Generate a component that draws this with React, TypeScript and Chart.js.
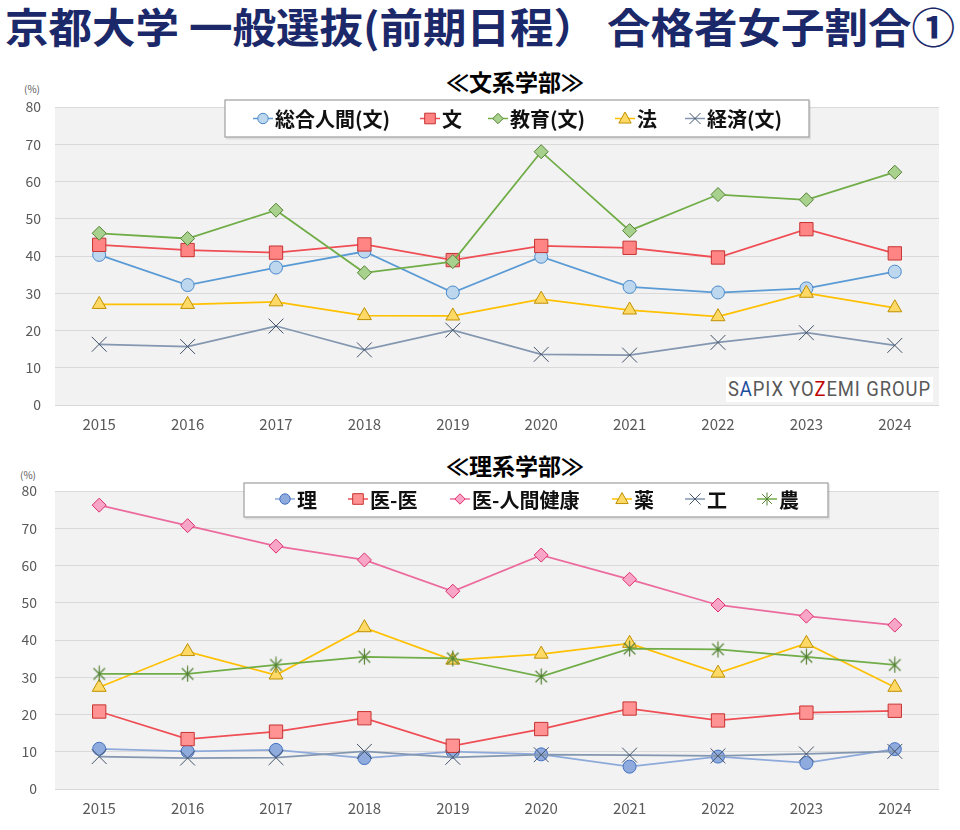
import React, { useEffect, useRef } from 'react';
import { Chart, registerables } from 'chart.js';

Chart.register(...registerables);

const FONT = "'Noto Sans CJK JP', 'Noto Sans', sans-serif";

// ---------- data ----------
const years = ['2015', '2016', '2017', '2018', '2019', '2020', '2021', '2022', '2023', '2024'];

const bunkeiNames = ['総合人間(文)', '文', '教育(文)', '法', '経済(文)'];
const sogoNingenBun = [40.3, 32.2, 36.9, 41.2, 30.2, 39.8, 31.7, 30.2, 31.3, 35.8];
const bungaku = [43.0, 41.6, 40.9, 43.1, 38.9, 42.7, 42.2, 39.6, 47.2, 40.7];
const kyoikuBun = [46.1, 44.7, 52.3, 35.5, 38.5, 68.0, 46.8, 56.5, 55.1, 62.5];
const hogaku = [27.0, 27.0, 27.7, 24.0, 23.9, 28.4, 25.5, 23.7, 30.0, 26.1];
const keizaiBun = [16.3, 15.7, 21.2, 14.8, 20.1, 13.6, 13.4, 16.8, 19.4, 16.0];

const rikeiNames = ['理', '医-医', '医-人間健康', '薬', '工', '農'];
const rigaku = [10.8, 10.1, 10.5, 8.3, 10.0, 9.3, 6.0, 8.7, 7.0, 10.7];
const igakuI = [20.8, 13.4, 15.4, 19.0, 11.6, 16.1, 21.6, 18.4, 20.5, 21.0];
const igakuKenko = [76.2, 70.7, 65.2, 61.5, 53.1, 62.8, 56.3, 49.4, 46.4, 44.0];
const yakugaku = [27.3, 36.9, 30.6, 43.3, 34.6, 36.2, 39.1, 31.1, 39.1, 27.3];
const kogaku = [8.7, 8.3, 8.4, 10.1, 8.5, 9.2, 9.1, 8.9, 9.4, 10.1];
const nogaku = [30.9, 30.9, 33.3, 35.5, 35.1, 30.2, 37.7, 37.5, 35.5, 33.3];

const yMin = 0;
const yMax = 80;
const yStep = 10;

// ---------- styles ----------
type SeriesStyle = { line: string; fill: string; border: string; shape: string; radius: number };

const bunkeiStyles: SeriesStyle[] = [
  { line: '#5b9bd5', fill: '#bdd7ee', border: '#4a8acb', shape: 'circle', radius: 6.5 },
  { line: '#ef4e55', fill: '#ff8585', border: '#c83232', shape: 'rect', radius: 9.4 },
  { line: '#70ad47', fill: '#a9d18e', border: '#548235', shape: 'rectRot', radius: 7 },
  { line: '#ffc000', fill: '#ffd966', border: '#bf9000', shape: 'triangle', radius: 8 },
  { line: '#8497b0', fill: '#8497b0', border: '#44546a', shape: 'crossRot', radius: 10.5 },
];

const rikeiStyles: SeriesStyle[] = [
  { line: '#8eaadb', fill: '#8faadc', border: '#4472c4', shape: 'circle', radius: 6.5 },
  { line: '#ef4e55', fill: '#ff9393', border: '#c83232', shape: 'rect', radius: 9.4 },
  { line: '#ec6b9e', fill: '#f8a5c8', border: '#dc306c', shape: 'rectRot', radius: 7 },
  { line: '#ffc000', fill: '#ffd966', border: '#bf9000', shape: 'triangle', radius: 8 },
  { line: '#8497b0', fill: '#8497b0', border: '#44546a', shape: 'crossRot', radius: 10.5 },
  { line: '#70ad47', fill: '#548235', border: '#548235', shape: 'asterisk', radius: 8 },
];

function makeAsterisk(color: string, size: number): HTMLCanvasElement {
  const c = document.createElement('canvas');
  c.width = size;
  c.height = size;
  const g = c.getContext('2d')!;
  g.strokeStyle = color;
  g.lineWidth = 1.2;
  const m = size / 2;
  const r = size / 2 - 0.5;
  const d = r * 0.72;
  g.beginPath();
  g.moveTo(m, m - r);
  g.lineTo(m, m + r);
  g.moveTo(m - d, m - d);
  g.lineTo(m + d, m + d);
  g.moveTo(m + d, m - d);
  g.lineTo(m - d, m + d);
  g.stroke();
  return c;
}

function drawMarker(ctx: CanvasRenderingContext2D, st: SeriesStyle, x: number, y: number, r: number) {
  ctx.save();
  ctx.fillStyle = st.fill;
  ctx.strokeStyle = st.border;
  ctx.lineWidth = 1;
  ctx.beginPath();
  if (st.shape === 'circle') {
    ctx.arc(x, y, r, 0, Math.PI * 2);
    ctx.fill();
    ctx.stroke();
  } else if (st.shape === 'rect') {
    ctx.rect(x - r, y - r, 2 * r, 2 * r);
    ctx.fill();
    ctx.stroke();
  } else if (st.shape === 'rectRot') {
    ctx.moveTo(x, y - r);
    ctx.lineTo(x + r, y);
    ctx.lineTo(x, y + r);
    ctx.lineTo(x - r, y);
    ctx.closePath();
    ctx.fill();
    ctx.stroke();
  } else if (st.shape === 'triangle') {
    ctx.moveTo(x, y - r);
    ctx.lineTo(x + r * 0.95, y + r * 0.7);
    ctx.lineTo(x - r * 0.95, y + r * 0.7);
    ctx.closePath();
    ctx.fill();
    ctx.stroke();
  } else if (st.shape === 'crossRot') {
    ctx.moveTo(x - r, y - r);
    ctx.lineTo(x + r, y + r);
    ctx.moveTo(x + r, y - r);
    ctx.lineTo(x - r, y + r);
    ctx.stroke();
  } else if (st.shape === 'asterisk') {
    const d = r * 0.75;
    ctx.moveTo(x, y - r);
    ctx.lineTo(x, y + r);
    ctx.moveTo(x - d, y - d);
    ctx.lineTo(x + d, y + d);
    ctx.moveTo(x + d, y - d);
    ctx.lineTo(x - d, y + d);
    ctx.stroke();
  }
  ctx.restore();
}

type LegendLayout = { box: { x: number; y: number; w: number; h: number }; itemX: number[]; cy: number };

function buildConfig(
  names: string[],
  series: number[][],
  styles: SeriesStyle[],
  legend: LegendLayout,
  layout: { padTop: number; padRight: number; yWidth: number; xHeight: number; yPad: number; xPad: number }
): any {
  const images: (HTMLCanvasElement | null)[] = styles.map((s) =>
    s.shape === 'asterisk' ? makeAsterisk(s.border, 17) : null
  );
  const n = series.length;
  const datasets = series.map((data, i) => {
    const st = styles[i];
    return {
      label: names[i],
      data,
      borderColor: st.line,
      borderWidth: 1.75,
      backgroundColor: st.line,
      pointStyle: images[i] || st.shape,
      pointRadius: st.radius,
      pointHoverRadius: st.radius,
      pointBackgroundColor: st.fill,
      pointBorderColor: st.border,
      pointBorderWidth: 1,
      tension: 0,
      fill: false,
      order: n - i,
    };
  });

  const bgPlugin = {
    id: 'plotBg',
    beforeDraw(chart: any) {
      const { ctx, chartArea } = chart;
      ctx.save();
      ctx.fillStyle = '#f2f2f2';
      ctx.fillRect(chartArea.left, chartArea.top, chartArea.right - chartArea.left, chartArea.bottom - chartArea.top);
      ctx.restore();
    },
  };

  const legendPlugin = {
    id: 'boxLegend',
    afterDraw(chart: any) {
      const ctx: CanvasRenderingContext2D = chart.ctx;
      const { box, itemX, cy } = legend;
      ctx.save();
      ctx.fillStyle = 'rgba(0,0,0,0.08)';
      ctx.fillRect(box.x + 1, box.y + 1, box.w + 1, box.h + 1.5);
      ctx.fillStyle = '#ffffff';
      ctx.fillRect(box.x, box.y, box.w, box.h);
      ctx.strokeStyle = '#a6a6a6';
      ctx.lineWidth = 1.3;
      ctx.strokeRect(box.x, box.y, box.w, box.h);
      chart.data.datasets.forEach((ds: any, i: number) => {
        const st = styles[i];
        const x = itemX[i];
        ctx.strokeStyle = st.line;
        ctx.lineWidth = 1.5;
        ctx.beginPath();
        ctx.moveTo(x - 10, cy);
        ctx.lineTo(x + 10, cy);
        ctx.stroke();
        const lr = st.shape === 'rect' ? 5.3 : st.shape === 'crossRot' ? 5.5 : st.shape === 'asterisk' ? 6.5 : st.shape === 'triangle' ? 6.5 : 5.2;
        drawMarker(ctx, st, x, cy, lr);
        ctx.fillStyle = '#111111';
        ctx.font = `bold 20px ${FONT}`;
        ctx.textBaseline = 'middle';
        ctx.textAlign = 'left';
        ctx.fillText(ds.label, x + 12, cy + 1);
      });
      ctx.restore();
    },
  };

  return {
    type: 'line',
    data: { labels: years, datasets },
    plugins: [bgPlugin, legendPlugin],
    options: {
      responsive: false,
      animation: false,
      devicePixelRatio: 1,
      layout: { padding: { left: 0, right: layout.padRight, top: layout.padTop, bottom: 0 } },
      plugins: {
        legend: { display: false },
        tooltip: { enabled: false },
        title: { display: false },
      },
      scales: {
        x: {
          offset: true,
          grid: { display: false, drawTicks: false },
          border: { display: false },
          ticks: {
            color: '#595959',
            font: { family: FONT, size: 15 },
            padding: layout.xPad,
            maxRotation: 0,
          },
          afterFit(scale: any) {
            scale.height = layout.xHeight;
            scale.paddingLeft = 0;
            scale.paddingRight = 0;
          },
        },
        y: {
          min: yMin,
          max: yMax,
          grid: { color: '#d9d9d9', lineWidth: 1, drawTicks: false },
          border: { display: false },
          ticks: {
            stepSize: yStep,
            color: '#595959',
            font: { family: FONT, size: 14 },
            padding: layout.yPad,
          },
          afterFit(scale: any) {
            scale.width = layout.yWidth;
            scale.paddingTop = 0;
            scale.paddingBottom = 0;
          },
        },
      },
    },
  };
}

function fitWidth(el: HTMLElement | null, target: number) {
  if (!el) return;
  el.style.transform = 'none';
  const w = el.getBoundingClientRect().width;
  if (w > 0) el.style.transform = `scaleX(${target / w})`;
}

export default function App() {
  const topRef = useRef<HTMLCanvasElement>(null);
  const botRef = useRef<HTMLCanvasElement>(null);
  const titleRef = useRef<HTMLSpanElement>(null);
  const wmRef = useRef<HTMLSpanElement>(null);

  useEffect(() => {
    fitWidth(titleRef.current, 950);
    fitWidth(wmRef.current, 203);
    const c1 = new Chart(
      topRef.current!,
      buildConfig(
        bunkeiNames,
        [sogoNingenBun, bungaku, kyoikuBun, hogaku, keizaiBun],
        bunkeiStyles,
        { box: { x: 225, y: 5, w: 584, h: 37 }, itemX: [263, 430, 498, 625, 695], cy: 23.5 },
        { padTop: 12, padRight: 21, yWidth: 55, xHeight: 35, yPad: 14, xPad: 10 }
      )
    );
    const c2 = new Chart(
      botRef.current!,
      buildConfig(
        rikeiNames,
        [rigaku, igakuI, igakuKenko, yakugaku, kogaku, nogaku],
        rikeiStyles,
        { box: { x: 244, y: 18, w: 584, h: 34 }, itemX: [285, 358, 460, 622, 695, 767], cy: 34 },
        { padTop: 26, padRight: 21, yWidth: 55, xHeight: 41, yPad: 18, xPad: 10 }
      )
    );
    let alive = true;
    const fonts: any = (document as any).fonts;
    if (fonts && fonts.ready) {
      fonts.ready.then(() => {
        if (!alive) return;
        fitWidth(titleRef.current, 950);
        fitWidth(wmRef.current, 203);
        c1.update();
        c2.update();
      });
    }
    return () => {
      alive = false;
      c1.destroy();
      c2.destroy();
    };
  }, []);

  return (
    <div
      style={{
        position: 'absolute',
        left: 0,
        top: 0,
        width: 960,
        height: 830,
        background: '#ffffff',
        overflow: 'hidden',
        fontFamily: FONT,
      }}
    >
      <div style={{ position: 'absolute', left: 5, top: 0, height: 50, lineHeight: '50px', whiteSpace: 'nowrap' }}>
        <span
          ref={titleRef}
          style={{
            display: 'inline-block',
            transformOrigin: 'left center',
            fontSize: 41,
            fontWeight: 700,
            color: '#1b2869',
          }}
        >
          京都大学 一般選抜(前期日程） 合格者女子割合①
        </span>
      </div>

      <div
        style={{
          position: 'absolute',
          left: 415,
          width: 200,
          top: 65,
          textAlign: 'center',
          fontSize: 23,
          fontWeight: 700,
          lineHeight: '32px',
          color: '#000',
        }}
      >
        ≪文系学部≫
      </div>
      <div style={{ position: 'absolute', left: 24, top: 82, fontSize: 10, color: '#595959', lineHeight: '14px' }}>
        (%)
      </div>

      <canvas
        ref={topRef}
        width={960}
        height={345}
        style={{ position: 'absolute', left: 0, top: 95, width: 960, height: 345 }}
      />

      <div
        style={{
          position: 'absolute',
          left: 726,
          top: 377,
          width: 207,
          height: 25,
          background: '#ffffff',
          whiteSpace: 'nowrap',
          overflow: 'hidden',
        }}
      >
        <span
          ref={wmRef}
          style={{
            display: 'inline-block',
            transformOrigin: 'left center',
            marginLeft: 2,
            fontFamily: "Roboto, 'DejaVu Sans', sans-serif",
            fontSize: 20,
            fontWeight: 400,
            lineHeight: '25px',
            color: '#595959',
            letterSpacing: 1,
          }}
        >
          S<span style={{ color: '#1f4e9c' }}>A</span>PIX YO<span style={{ color: '#c00000' }}>Z</span>EMI GROUP
        </span>
      </div>

      <div
        style={{
          position: 'absolute',
          left: 415,
          width: 200,
          top: 449,
          textAlign: 'center',
          fontSize: 23,
          fontWeight: 700,
          lineHeight: '32px',
          color: '#000',
        }}
      >
        ≪理系学部≫
      </div>
      <div style={{ position: 'absolute', left: 20, top: 468, fontSize: 10, color: '#595959', lineHeight: '14px' }}>
        (%)
      </div>

      <canvas
        ref={botRef}
        width={960}
        height={365}
        style={{ position: 'absolute', left: 0, top: 465, width: 960, height: 365 }}
      />
    </div>
  );
}
